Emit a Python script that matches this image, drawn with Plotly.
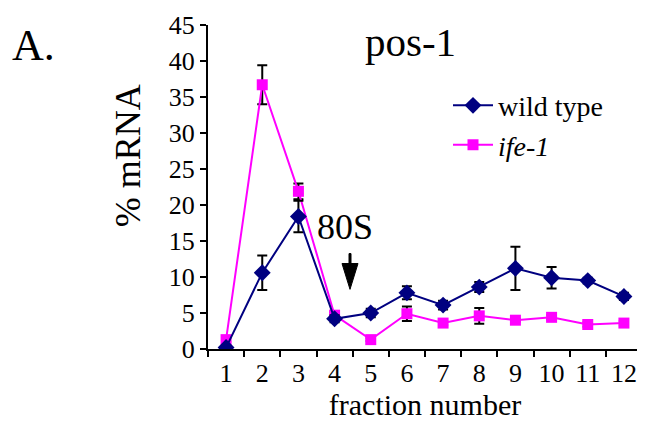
import plotly.graph_objects as go

fractions = list(range(1, 13))
wt = [0.2, 10.6, 18.4, 4.2, 5.0, 7.8, 6.1, 8.6, 11.2, 9.9, 9.5, 7.3]
wt_err = [0.3, 2.4, 2.2, 0.5, 0.6, 0.9, 0.6, 0.7, 3.0, 1.5, 0.4, 0.5]
ife = [1.3, 36.7, 21.9, 4.7, 1.3, 4.9, 3.6, 4.6, 4.0, 4.4, 3.4, 3.6]
ife_err = [0.3, 2.7, 1.1, 0.4, 0.2, 1.0, 0.3, 1.1, 0.2, 0.3, 0.3, 0.3]
y_ticks = [0, 5, 10, 15, 20, 25, 30, 35, 40, 45]

FONT = "Liberation Serif, Times New Roman, serif"

# page body has an 8px margin; figure is sized/positioned to compensate
OFF = 8
W, H = 645 - OFF, 434 - OFF
L, T, R, B = 208 - OFF, 23 - OFF, 3, H - (349 - OFF)
PW, PH = W - L - R, H - T - B


def px(xs):
    return (xs - OFF - L) / PW


def py(ys):
    return (H - B - (ys - OFF)) / PH


fig = go.Figure()
fig.add_trace(go.Scatter(
    x=fractions, y=ife, name="<i>ife-1</i>", mode="lines+markers",
    line=dict(color="#FF00FF", width=2),
    marker=dict(symbol="square", size=11, color="#FF00FF"),
    error_y=dict(type="data", array=ife_err, color="black", thickness=2, width=5),
))
fig.add_trace(go.Scatter(
    x=fractions, y=wt, name="wild type", mode="lines+markers",
    line=dict(color="#000080", width=2),
    marker=dict(symbol="diamond", size=13, color="#000080"),
    error_y=dict(type="data", array=wt_err, color="black", thickness=2, width=5),
))

# filled arrow (pointing down to the 80S peak), in screen pixels
ax_c, a_top, a_mid, a_tip, a_hw, s_hw = 350, 253, 263, 289, 8, 1
arrow_path = (
    f"M {px(ax_c - s_hw)} {py(a_top)} L {px(ax_c + s_hw)} {py(a_top)} "
    f"L {px(ax_c + s_hw)} {py(a_mid)} L {px(ax_c + a_hw)} {py(a_mid)} "
    f"L {px(ax_c)} {py(a_tip)} L {px(ax_c - a_hw)} {py(a_mid)} "
    f"L {px(ax_c - s_hw)} {py(a_mid)} Z"
)

fig.update_layout(
    width=W, height=H,
    margin=dict(l=L, r=R, t=T, b=B),
    paper_bgcolor="white", plot_bgcolor="white",
    font=dict(family=FONT, color="black", size=26),
    showlegend=True,
    legend=dict(x=px(448), y=py(79), xanchor="left", yanchor="top",
                traceorder="reversed", font=dict(size=28, family=FONT),
                bgcolor="rgba(0,0,0,0)", itemwidth=40),
    xaxis=dict(range=[0.5, 12.5], tickmode="array", tickvals=fractions,
               ticktext=[str(f) for f in fractions], ticks="", showgrid=False,
               zeroline=False, showline=True, linecolor="black", linewidth=2,
               tickfont=dict(size=26, family=FONT),
               minor=dict(tickmode="array", tickvals=[f + 0.5 for f in range(0, 13)],
                          ticks="outside", ticklen=6, tickwidth=2, tickcolor="black",
                          showgrid=False),
               title=dict(text="fraction number", font=dict(size=30, family=FONT), standoff=5)),
    yaxis=dict(range=[0, 45], tickmode="array", tickvals=y_ticks, ticks="outside",
               ticklen=6, tickwidth=2, tickcolor="black", showgrid=False,
               zeroline=False, showline=True, linecolor="black", linewidth=2,
               tickfont=dict(size=26, family=FONT)),
    shapes=[dict(type="path", xref="paper", yref="paper", path=arrow_path,
                 fillcolor="black", line=dict(color="black", width=1))],
    annotations=[
        dict(text="% mRNA", x=px(128), y=py(155), xref="paper", yref="paper",
             showarrow=False, textangle=-90, xanchor="center", yanchor="middle",
             font=dict(size=36, family=FONT)),
        dict(text="pos-1", x=px(410), y=py(40), xref="paper", yref="paper",
             showarrow=False, xanchor="center", yanchor="middle",
             font=dict(size=41, family=FONT)),
        dict(text="A.", x=px(33), y=py(44), xref="paper", yref="paper",
             showarrow=False, xanchor="center", yanchor="middle",
             font=dict(size=44, family=FONT)),
        dict(text="80S", x=px(345), y=py(226), xref="paper", yref="paper",
             showarrow=False, xanchor="center", yanchor="middle",
             font=dict(size=36, family=FONT)),
    ],
)

fig.write_html("out.html")
